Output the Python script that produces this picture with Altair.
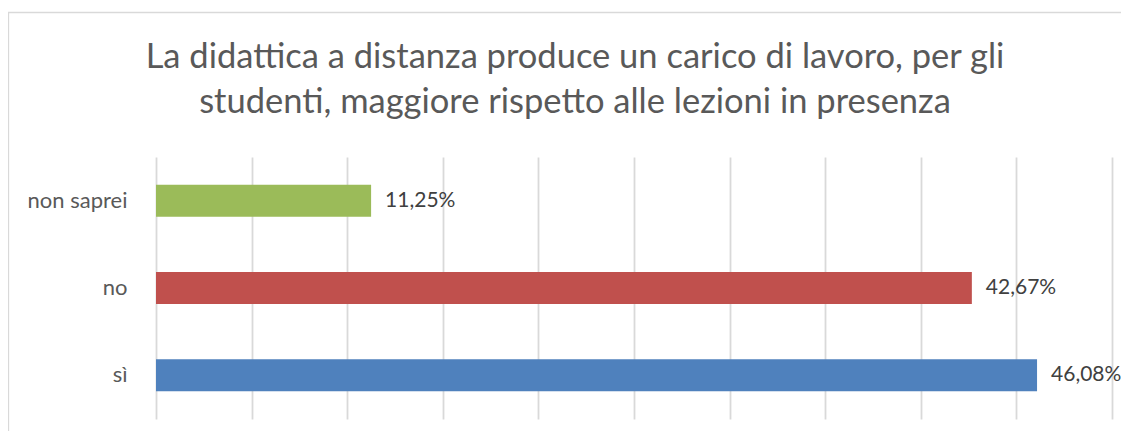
import altair as alt
import pandas as pd

categories = ["non saprei", "no", "sì"]
values = [11.25, 42.67, 46.08]
bar_colors = ["#9BBB59", "#C0504D", "#4F81BD"]
grid_ticks = [0, 5, 10, 15, 20, 25, 30, 35, 40, 45, 50]
title_lines = [
    "La didattica a distanza produce un carico di lavoro, per gli",
    "studenti, maggiore rispetto alle lezioni in presenza",
]

df = pd.DataFrame({
    "cat": categories,
    "val": values,
    "label": [f"{v:.2f}".replace(".", ",") + "%" for v in values],
})

FONT = "Lato"

x_enc = alt.X(
    "val:Q",
    scale=alt.Scale(domain=[0, 50], nice=False, zero=True),
    axis=alt.Axis(values=grid_ticks, labels=False, ticks=False, domain=False,
                  grid=True, gridColor="#D9D9D9", gridWidth=1.8, title=None),
)
y_enc = alt.Y(
    "cat:N",
    sort=categories,
    scale=alt.Scale(paddingInner=0.634, paddingOuter=0.317),
    axis=alt.Axis(ticks=False, domain=False, grid=False, title=None,
                  labelFont=FONT, labelFontSize=22, labelColor="#595959",
                  labelPadding=29),
)

bars = alt.Chart(df).mark_bar().encode(
    x=x_enc,
    y=y_enc,
    color=alt.Color("cat:N", scale=alt.Scale(domain=categories, range=bar_colors), legend=None),
)

text = alt.Chart(df).mark_text(
    align="left", baseline="middle", dx=14, font=FONT, fontSize=21, color="#404040"
).encode(
    x="val:Q",
    y=alt.Y("cat:N", sort=categories),
    text="label:N",
)

border = alt.Chart(df.head(1)).mark_rect(
    fill=None, fillOpacity=0, stroke="#D9D9D9", strokeWidth=1.3
).encode(
    x=alt.value(-147.5), x2=alt.value(1100), y=alt.value(-144.5), y2=alt.value(400)
)

title = alt.Chart(df.head(1)).mark_text(
    align="center", baseline="alphabetic", font=FONT, fontSize=34.5,
    color="#595959", lineHeight=45,
).encode(
    x=alt.value(419), y=alt.value(-89), text=alt.value(title_lines)
)

chart = alt.layer(border, bars, text, title).properties(
    width=956,
    height=262,
    padding={"left": 148, "top": 149, "right": 9, "bottom": 12},
    autosize=alt.AutoSizeParams(type="none"),
).configure_view(stroke=None)

chart.save("out.html", embed_options={"renderer": "svg", "actions": False})
